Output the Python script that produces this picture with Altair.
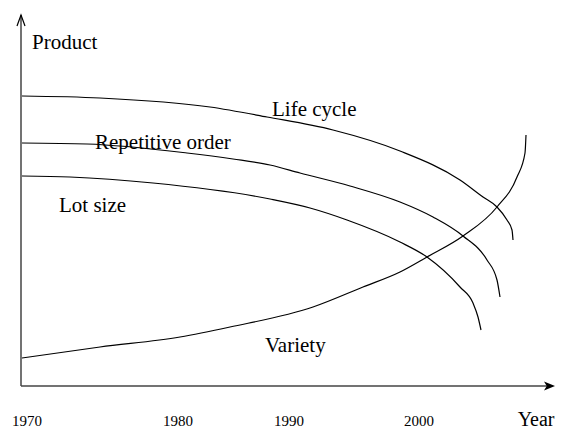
import altair as alt
import pandas as pd

# Curves (x: distance along time axis, y: height above time axis)
life_x = [1, 79, 189, 246, 312, 379, 439, 462, 476, 486, 491, 492]
life_y = [290, 288, 279, 269, 256, 235, 206, 189, 179, 166, 156, 146]

rep_x = [1, 66, 166, 212, 249, 279, 329, 379, 412, 442, 466, 476, 479]
rep_y = [243, 242, 233, 227, 221, 213, 200, 184, 169, 150, 126, 106, 89]

lot_x = [1, 49, 132, 249, 289, 326, 379, 406, 439, 452, 457, 460]
lot_y = [210, 209, 203, 187, 178, 166, 144, 129, 99, 83, 69, 56]

var_x = [1, 79, 159, 209, 292, 342, 379, 406, 442, 476, 496, 504, 505]
var_y = [28, 39, 49, 59, 79, 99, 114, 129, 150, 179, 209, 233, 251]

# Curve labels
label_text = ["Product", "Life cycle", "Repetitive order", "Lot size", "Variety"]
label_x = [11, 251, 74, 38, 244]
label_y = [337, 270, 237, 174, 34]

# Time axis labels
year_labels = ["1970", "1980", "1990", "2000"]
year_pos = [6, 157, 268, 398]
year_label_y = -40
axis_title = "Year"
axis_title_x = 533.5

X_MAX = 534
Y_MAX = 371

rows = []
for name, xs, ys in [("Life cycle", life_x, life_y), ("Repetitive order", rep_x, rep_y),
                     ("Lot size", lot_x, lot_y), ("Variety", var_x, var_y)]:
    for a, b in zip(xs, ys):
        rows.append({"series": name, "x": a, "y": b})
curves = pd.DataFrame(rows)

xs = alt.Scale(domain=[0, X_MAX], nice=False, zero=False)
ys = alt.Scale(domain=[0, Y_MAX], nice=False, zero=False)
X = lambda f="x": alt.X(f"{f}:Q", scale=xs, axis=None)
Y = lambda f="y": alt.Y(f"{f}:Q", scale=ys, axis=None)

curve_layer = alt.Chart(curves).mark_line(
    interpolate="monotone", color="black", strokeWidth=1.2
).encode(x=X(), y=Y(), detail="series:N")

# axes lines
axes_df = pd.DataFrame([
    {"x": 0, "y": 0, "x2": 0, "y2": Y_MAX},
    {"x": 0, "y": 0, "x2": X_MAX - 6, "y2": 0},
])
axes_layer = alt.Chart(axes_df).mark_rule(color="#444", strokeWidth=1.5).encode(
    x=X(), y=Y(), x2="x2:Q", y2="y2:Q"
)

# open arrow head on vertical axis
varrow = pd.DataFrame([
    {"x": -4, "y": Y_MAX - 11, "k": 0}, {"x": 0, "y": Y_MAX, "k": 1}, {"x": 4, "y": Y_MAX - 11, "k": 2},
])
varrow_layer = alt.Chart(varrow).mark_line(color="black", strokeWidth=1.2).encode(
    x=X(), y=Y(), order="k:Q"
)

# filled arrow head on horizontal axis
harrow = pd.DataFrame([{"x": X_MAX - 5.5, "y": 0}])
harrow_layer = alt.Chart(harrow).mark_point(
    shape="M-1,-0.8L1,0L-1,0.8L-0.5,0Z", filled=True, color="black", opacity=1, size=121
).encode(x=X(), y=Y())

labels = pd.DataFrame({"t": label_text, "x": label_x, "y": label_y})
label_layer = alt.Chart(labels).mark_text(
    align="left", baseline="alphabetic", font="Liberation Serif", fontSize=21, color="black"
).encode(x=X(), y=Y(), text="t:N")

years = pd.DataFrame({"t": year_labels, "x": year_pos, "y": [year_label_y] * len(year_labels)})
year_layer = alt.Chart(years).mark_text(
    align="center", baseline="alphabetic", font="Liberation Serif", fontSize=15, color="black"
).encode(x=X(), y=Y(), text="t:N")

title_df = pd.DataFrame({"t": [axis_title], "x": [axis_title_x], "y": [year_label_y]})
title_layer = alt.Chart(title_df).mark_text(
    align="right", baseline="alphabetic", font="Liberation Serif", fontSize=20, color="black"
).encode(x=X(), y=Y(), text="t:N")

chart = alt.layer(
    axes_layer, varrow_layer, harrow_layer, curve_layer, label_layer, year_layer, title_layer
).properties(
    width=X_MAX, height=Y_MAX,
    autosize=alt.AutoSizeParams(type="none"),
    padding={"left": 13, "top": 7, "right": 0, "bottom": 43},
).configure_view(stroke=None)

chart.save("out.html", embed_options={"renderer": "svg", "actions": False})
